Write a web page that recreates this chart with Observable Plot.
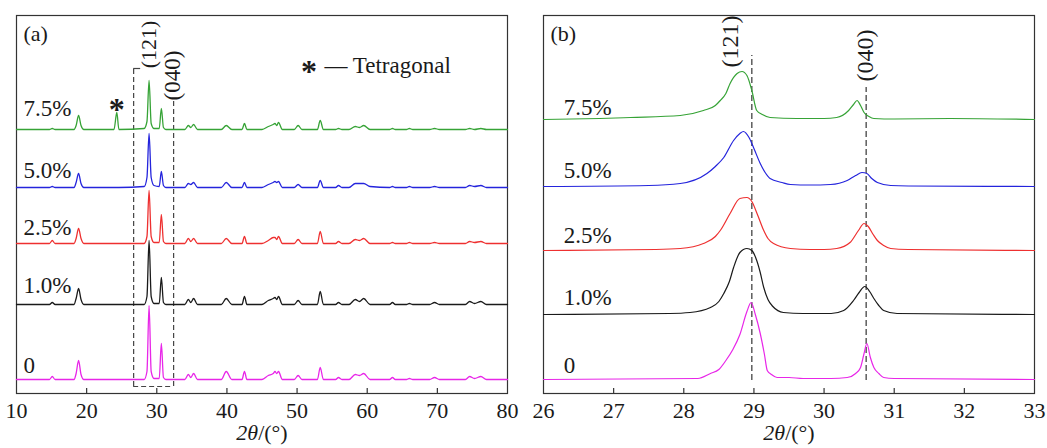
<!DOCTYPE html>
<html>
<head>
<meta charset="utf-8">
<script src="https://cdn.jsdelivr.net/npm/d3@7"></script>
<script src="https://cdn.jsdelivr.net/npm/@observablehq/plot@0.6"></script>
<style>
  html, body { margin: 0; padding: 0; background: #fff; }
  #wrap { display: flex; width: 1047px; height: 448px; }
</style>
</head>
<body>
<div id="wrap"></div>
<script>
// ---------- shared ----------
const seriesNames = ["0", "1.0%", "2.5%", "5.0%", "7.5%"];
const seriesColors = ["#e826e8", "#1a1a1a", "#ee3030", "#2424dc", "#36a336"];

// ---------- panel (a): full pattern, 2θ 10–80 ----------
const leftTicks = [10, 20, 30, 40, 50, 60, 70, 80];
const leftX = [10, 14.7, 15.1, 15.5, 18.2, 18.5, 18.85, 19.2, 19.6, 23.9, 24.3, 24.6,
  28.2, 28.6, 28.9, 29.2, 29.6, 30.35, 30.65, 30.95, 31.3, 34.0, 34.5, 34.85, 35.25, 35.8,
  39.2, 39.9, 40.7, 42.15, 42.5, 42.85, 45.0, 45.9, 46.6, 46.85, 47.1, 47.35, 47.9,
  49.6, 50.15, 50.7, 52.9, 53.3, 53.75, 55.5, 55.9, 56.4, 57.4, 58.3, 58.9, 59.5, 60.4,
  63.2, 63.6, 64.0, 65.6, 66.0, 66.5, 68.9, 69.6, 70.3, 74.0, 74.6, 75.3, 76.2, 77.0, 80];
const leftS0  = [0,0,3,0,0,6,19,5,0,0,0,0, 0,8,74,8,1,1,36,2,0,0,5,2,6,0, 0,8,0,0,8,0,0,4,6,8,6,8,0, 0,4,0,0,12,0,0,2,0,0,5,4,6,0, 0,2,0,0,1,0,0,2,0,0,3,1,3,0,0];
const leftS1  = [0,0,2,0,0,6,16,5,0,0,0,0, 0,8,64,8,1,1,27,2,0,0,5,2,6,0, 0,6,0,0,8,0,0,4,6,7,5,8,0, 0,4,0,0,13,0,0,2,0,0,5,3,6,0, 0,2,0,0,1,0,0,2,0,0,3,1,3,0,0];
const leftS2  = [0,0,3,0,0,5,15,5,0,0,0,0, 0,7,53,7,1,1,29,2,0,0,5,2,5,0, 0,5,0,0,7,0,0,3,6,6,4,7,0, 0,4,0,0,12,0,0,2,0,0,4,3,5,0, 0,1,0,0,1,0,0,1,0,0,2,1,2,0,0];
const leftS3  = [0,0,1,0,0,5,14,4,0,0,0,0, 1,10,54,10,2,1,16,2,0,0,4,3,5,0, 0,5,0,0,5,0,0,3,5,6,5,6,0, 0,3,0,0,7,0,0,2,0,0,4,4,4,1, 0,1,0,0,1,0,0,1,0,0,2,1,2,0,0];
const leftS4  = [0,0,1,0,0,4,14,4,0,0,17,0, 1,8,49,6,1,1,21,2,0,0,4,2,5,0, 0,4,0,0,6,0,0,3,5,6,4,7,0, 0,4,0,0,9,0,0,1,0,0,3,2,4,0, 0,1,0,0,1,0,0,1,0,0,1,0,1,0,0];
const leftSeries = [leftS0, leftS1, leftS2, leftS3, leftS4];
const leftOffsets = [14, 89, 150, 206, 264];
const leftLabelY = [28, 108, 166, 223, 285];

// ---------- panel (b): zoom, 2θ 26–33 ----------
const rightTicks = [26, 27, 28, 29, 30, 31, 32, 33];
const rightS0 = [[26,0],[28.2,1],[28.38,6],[28.5,10],[28.6,19],[28.7,30],[28.8,45],[28.9,68],[28.96,77],[29.02,65],[29.09,46],[29.15,25],[29.19,9],[29.25,5],[29.33,2],[29.5,2],[29.7,1],[30.1,1],[30.33,2],[30.45,6],[30.52,12],[30.57,26],[30.61,36],[30.66,22],[30.71,12],[30.78,6],[30.85,2],[31.0,1],[33,0]];
const rightS1 = [[26,0],[27.8,1],[28.09,2],[28.38,7],[28.5,13],[28.57,21],[28.65,33],[28.71,47],[28.8,62],[28.9,66],[28.97,64],[29.04,54],[29.09,42],[29.14,27],[29.2,15],[29.27,8],[29.42,2],[29.7,1],[30.1,1],[30.28,4],[30.42,14],[30.5,22],[30.58,28],[30.65,23],[30.71,16],[30.78,9],[30.85,4],[31.04,1],[33,0]];
const rightS2 = [[26,0],[27.6,1],[27.95,2],[28.28,7],[28.45,14],[28.52,20],[28.66,37],[28.8,52],[28.9,53],[28.97,49],[29.05,36],[29.14,20],[29.2,12],[29.28,7],[29.52,2],[29.8,1],[30.0,1],[30.18,2],[30.37,8],[30.49,20],[30.57,27],[30.63,24],[30.7,16],[30.76,10],[30.85,5],[30.95,2],[31.2,1],[33,0]];
const rightS3 = [[26,0],[27.5,1],[27.95,3],[28.33,13],[28.45,20],[28.57,29],[28.71,46],[28.8,53],[28.85,55],[28.93,49],[29.0,38],[29.09,23],[29.16,14],[29.23,8],[29.4,4],[29.52,2],[29.8,1.5],[30.09,2],[30.33,6],[30.45,11],[30.54,14],[30.61,13],[30.68,8],[30.76,4],[30.95,1],[31.2,0.5],[33,0]];
const rightS4 = [[26,0],[26.8,1],[27.24,2],[27.95,4],[28.28,9],[28.45,14],[28.52,19],[28.6,26],[28.66,36],[28.76,46],[28.83,48],[28.9,44],[28.97,29],[29.04,9],[29.12,5],[29.23,2],[29.61,1],[30.0,1],[30.18,2],[30.35,9],[30.42,15],[30.47,19],[30.52,14],[30.57,7],[30.64,3],[30.71,1],[31,0.5],[31.8,1],[33,0]];
const rightSeries = [rightS0, rightS1, rightS2, rightS3, rightS4];
const rightOffsets = [14, 79, 143, 207, 274];
const rightLabelY = [28, 96, 158, 223, 286];

// reference peak positions
const peak121 = 28.97, peak040 = 30.6;

// ---------- rows ----------
const leftRows = [];
leftSeries.forEach((ys, i) => ys.forEach((v, j) => leftRows.push({x: leftX[j], y: v + leftOffsets[i], s: seriesNames[i]})));
const rightRows = [];
rightSeries.forEach((pts, i) => pts.forEach(([x, v]) => rightRows.push({x, y: v + rightOffsets[i], s: seriesNames[i]})));

const FONT = "'Liberation Serif', 'Times New Roman', serif";
const INK = "#1a1a1a";
const AXIS_LABEL = "2θ/(°)";
const dash = "5,3";

function common(ticks) {
  return [
    Plot.frame({stroke: "#333", strokeWidth: 1.2}),
    Plot.ruleX(ticks.slice(1, -1), {stroke: "#333", strokeWidth: 1.2, insetTop: 373}),
    Plot.axisX({ticks, tickSize: 0, tickPadding: 9, fontSize: 22, label: null, fill: INK, tickFormat: d3.format("d")}),
    Plot.text([AXIS_LABEL], {frameAnchor: "bottom", dy: 46, fontSize: 22, fill: INK})
  ];
}

const left = Plot.plot({
  width: 523, height: 448,
  marginLeft: 16, marginRight: 16, marginTop: 15, marginBottom: 55,
  style: {fontFamily: FONT, background: "white", color: INK},
  x: {domain: [10, 80]},
  y: {domain: [0, 378], axis: null},
  color: {domain: seriesNames, range: seriesColors},
  marks: [
    ...common(leftTicks),
    // dashed box around (121)/(040)
    Plot.ruleX([26.7], {y1: 7, y2: 325, stroke: "#444", strokeWidth: 1.2, strokeDasharray: dash}),
    Plot.ruleX([32.4], {y1: 7, y2: 293, stroke: "#444", strokeWidth: 1.2, strokeDasharray: dash}),
    Plot.ruleY([7], {x1: 26.7, x2: 32.4, stroke: "#444", strokeWidth: 1.2, strokeDasharray: dash}),
    Plot.ruleY([325], {x1: 26.7, x2: 27.7, stroke: "#444", strokeWidth: 1.2}),
    Plot.line(leftRows, {x: "x", y: "y", z: "s", stroke: "s", strokeWidth: 1.3, curve: "monotone-x"}),
    Plot.text(seriesNames, {x: 11, y: (d, i) => leftLabelY[i], text: d => d, textAnchor: "start", fontSize: 23, fill: INK}),
    Plot.text(["(a)"], {x: 11, y: 360, textAnchor: "start", fontSize: 22, fill: INK}),
    Plot.text(["(121)"], {x: 28.86, y: 349, rotate: -90, fontSize: 22, fill: INK}),
    Plot.text(["(040)"], {x: 32.3, y: 318, rotate: -90, fontSize: 23, fill: INK}),
    Plot.text(["*"], {x: 24.3, y: 290, dy: 6, fontSize: 32, fontWeight: "bold", fill: INK}),
    Plot.text(["*"], {x: 51.7, y: 328, dy: 6, fontSize: 32, fontWeight: "bold", fill: INK}),
    Plot.text(["— Tetragonal"], {x: 53.9, y: 328, textAnchor: "start", fontSize: 23, fill: INK})
  ]
});

const right = Plot.plot({
  width: 524, height: 448,
  marginLeft: 20, marginRight: 13, marginTop: 15, marginBottom: 55,
  style: {fontFamily: FONT, background: "white", color: INK},
  x: {domain: [26, 33]},
  y: {domain: [0, 378], axis: null},
  color: {domain: seriesNames, range: seriesColors},
  marks: [
    ...common(rightTicks),
    Plot.ruleX([peak121], {y1: 13, y2: 338, stroke: "#444", strokeWidth: 1.3, strokeDasharray: "6,3"}),
    Plot.ruleX([peak040], {y1: 13, y2: 306, stroke: "#444", strokeWidth: 1.3, strokeDasharray: "6,3"}),
    Plot.line(rightRows, {x: "x", y: "y", z: "s", stroke: "s", strokeWidth: 1.2, curve: "monotone-x"}),
    Plot.text(seriesNames, {x: 26.29, y: (d, i) => rightLabelY[i], text: d => d, textAnchor: "start", fontSize: 23, fill: INK}),
    Plot.text(["(b)"], {x: 26.1, y: 360, textAnchor: "start", fontSize: 22, fill: INK}),
    Plot.text(["(121)"], {x: 28.67, y: 352, rotate: -90, fontSize: 24, fill: INK}),
    Plot.text(["(040)"], {x: 30.59, y: 338, rotate: -90, fontSize: 24, fill: INK})
  ]
});

const wrap = document.getElementById("wrap");
wrap.appendChild(left);
wrap.appendChild(right);

// italic 2θ in the axis titles
d3.selectAll("svg text").filter(function () { return this.textContent === AXIS_LABEL; }).each(function () {
  const t = d3.select(this);
  t.text(null);
  t.append("tspan").attr("font-style", "italic").text("2θ");
  t.append("tspan").text("/(°)");
});
</script>
</body>
</html>
